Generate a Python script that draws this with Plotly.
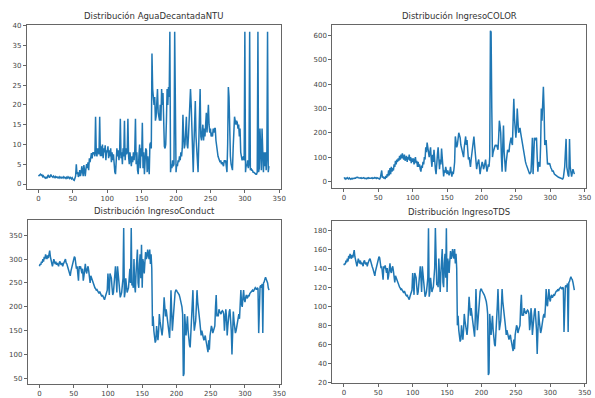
import plotly.graph_objects as go

# ---------------- data ----------------
ntu = [
    2.0, 2.2, 2.4, 2.5, 2.2, 2.3, 1.9, 2.1, 1.8, 1.6,
    1.5, 1.8, 1.4, 1.7, 2.3, 2.0, 1.6, 1.9, 2.4, 2.0,
    1.8, 1.7, 2.0, 1.8, 1.6, 1.9, 1.7, 1.8, 1.6, 1.7,
    1.5, 1.8, 1.6, 1.7, 1.5, 1.6, 1.8, 1.5, 1.7, 1.6,
    1.4, 1.7, 1.5, 1.8, 1.6, 1.4, 1.7, 1.5, 1.3, 1.6,
    1.2, 1.0, 0.9, 1.5, 2.0, 5.0, 2.5, 3.0, 1.8, 2.2,
    3.5, 2.0, 2.8, 4.5, 3.0, 2.0, 4.8, 3.5, 2.0, 3.8,
    5.0, 4.0, 5.5, 3.5, 6.5, 5.5, 7.0, 7.8, 6.5, 8.0,
    7.5, 8.0, 7.0, 17.0, 8.0, 7.0, 9.0, 8.0, 7.5, 17.0,
    7.0, 9.5, 7.0, 10.0, 6.5, 9.0, 8.0, 9.8, 6.0, 8.5,
    8.0, 9.5, 6.5, 8.5, 7.0, 9.0, 5.5, 8.0, 6.0, 7.5,
    4.0, 3.0, 2.5, 6.0, 9.0, 7.0, 8.5, 6.0, 8.0, 16.5,
    6.5, 8.0, 5.0, 9.0, 7.0, 16.0, 6.0, 9.0, 7.5, 8.0,
    16.5, 7.0, 5.0, 8.0, 6.0, 4.5, 7.0, 5.5, 8.0, 6.0,
    8.5, 16.5, 5.0, 8.0, 3.5, 2.5, 7.0, 10.0, 4.0, 9.0,
    7.0, 15.5, 4.0, 8.0, 2.5, 6.0, 9.0, 8.5, 3.0, 7.0,
    2.5, 2.5, 10.0, 10.5, 9.0, 33.0, 24.0, 22.0, 20.0, 22.0,
    16.0, 17.0, 20.0, 24.0, 18.0, 17.0, 16.0, 20.0, 16.0, 24.0,
    20.0, 23.0, 10.0, 9.5, 9.0, 10.0, 16.0, 24.0, 20.0, 24.5,
    22.0, 38.5, 3.0, 5.0, 4.0, 6.0, 4.5, 5.0, 38.5, 4.0,
    3.0, 5.0, 4.5, 6.0, 5.5, 7.0, 6.0, 8.0, 7.0, 9.0,
    17.5, 12.0, 9.0, 10.0, 14.0, 17.0, 10.0, 9.0, 12.0, 15.0,
    20.0, 24.0, 20.0, 12.0, 8.0, 3.0, 10.0, 15.0, 21.0, 12.0,
    8.0, 5.0, 3.0, 10.0, 16.0, 24.0, 12.0, 11.0, 13.0, 15.0,
    11.0, 14.0, 12.0, 15.0, 18.0, 13.0, 16.0, 20.0, 15.0, 13.0,
    14.0, 12.0, 13.0, 12.0, 14.0, 13.0, 14.0, 14.0, 11.0, 9.0,
    8.0, 7.0, 6.5, 6.0, 5.5, 6.0, 5.0, 5.5, 5.0, 4.5,
    6.0, 5.5, 6.0, 5.0, 3.0, 10.0, 24.5, 22.0, 10.0, 7.0,
    5.0, 4.0, 3.5, 9.0, 13.0, 17.0, 16.0, 15.0, 16.0, 15.5,
    14.0, 15.0, 12.0, 14.0, 8.0, 7.0, 6.0, 6.5, 7.0, 6.0,
    38.5, 3.0, 5.0, 4.5, 6.0, 4.0, 5.0, 38.5, 3.5, 4.0,
    3.5, 3.5, 3.0, 3.0, 2.8, 2.6, 2.5, 2.5, 3.0, 38.5,
    3.0, 4.0, 14.0, 5.0, 3.5, 14.0, 4.0, 3.0, 8.0, 4.5,
    8.0, 3.5, 7.0, 38.5, 3.0, 4.5,
]

color = [
    12, 14, 10, 13, 11, 15, 12, 10, 14, 11,
    9, 12, 10, 13, 11, 12, 14, 13, 16, 18,
    17, 15, 16, 14, 13, 15, 12, 14, 13, 15,
    12, 14, 13, 11, 14, 12, 15, 13, 12, 14,
    13, 15, 12, 14, 13, 16, 14, 12, 15, 13,
    14, 12, 10, 15, 25, 45, 15, 20, 12, 18,
    10, 22, 15, 30, 20, 45, 25, 55, 30, 60,
    40, 55, 45, 70, 60, 85, 70, 90, 80, 95,
    85, 105, 90, 110, 95, 115, 100, 90, 110, 85,
    95, 105, 80, 100, 90, 110, 85, 100, 75, 95,
    80, 95, 70, 90, 100, 75, 85, 60, 80, 60,
    70, 50, 40, 65, 55, 80, 70, 100, 90, 140,
    120, 160, 130, 110, 100, 120, 140, 90, 60, 110,
    80, 130, 70, 50, 30, 90, 110, 140, 80, 50,
    90, 70, 135, 80, 40, 20, 45, 35, 60, 40,
    30, 45, 35, 25, 40, 60, 35, 20, 40, 30,
    50, 80, 185, 160, 140, 150, 170, 200, 190, 180,
    150, 140, 120, 110, 100, 140, 160, 185, 150, 170,
    130, 90, 100, 80, 60, 90, 120, 150, 170, 185,
    150, 100, 70, 50, 70, 80, 90, 60, 30, 50,
    60, 80, 70, 50, 60, 75, 90, 60, 40, 55,
    70, 60, 100, 620, 615, 300, 100, 120, 130, 140,
    150, 145, 150, 140, 130, 180, 250, 230, 200, 100,
    40, 150, 230, 120, 90, 40, 80, 110, 130, 125,
    120, 150, 170, 180, 160, 150, 250, 340, 260, 200,
    180, 220, 300, 250, 200, 210, 220, 200, 180, 170,
    150, 130, 100, 90, 80, 70, 60, 50, 40, 35,
    30, 35, 40, 100, 180, 30, 100, 180, 170, 180,
    180, 100, 40, 80, 70, 60, 150, 300, 250, 350,
    390, 300, 150, 160, 170, 120, 70, 75, 70, 75,
    60, 55, 50, 40, 45, 35, 30, 28, 25, 22,
    20, 18, 17, 16, 15, 14, 12, 11, 10, 15,
    30, 60, 120, 175, 60, 30, 25, 20, 175, 60,
    25, 20, 35, 50, 40, 30,
]

conduct = [
    285, 290, 288, 295, 292, 300, 295, 305, 300, 310,
    305, 300, 308, 302, 310, 318, 305, 295, 290, 285,
    292, 300, 295, 290, 295, 288, 292, 287, 285, 293,
    295, 290, 288, 292, 285, 290, 295, 298, 300, 292,
    290, 285, 280, 275, 270, 265, 275, 280, 290, 295,
    300, 305, 303, 290, 280, 285, 260, 255, 285, 280,
    285, 275, 270, 280, 255, 265, 285, 290, 275, 270,
    280, 285, 275, 260, 250, 265, 260, 255, 250, 245,
    242, 240, 238, 235, 236, 232, 230, 228, 232, 227,
    225, 222, 225, 220, 218, 215, 220, 225, 228, 235,
    270, 245, 225, 270, 265, 260, 240, 225, 230, 250,
    280, 285, 260, 230, 285, 270, 250, 235, 220, 225,
    230, 245, 260, 365, 220, 230, 260, 245, 230, 235,
    240, 260, 280, 250, 365, 245, 250, 240, 300, 245,
    230, 270, 300, 320, 250, 240, 290, 310, 260, 330,
    240, 300, 290, 270, 295, 315, 300, 305, 320, 310,
    300, 320, 290, 310, 280, 160, 180, 150, 140, 125,
    130, 160, 145, 130, 150, 185, 170, 160, 150, 140,
    155, 180, 220, 200, 180, 195, 185, 170, 160, 150,
    135, 175, 235, 190, 150, 170, 200, 215, 230, 235,
    235, 232, 230, 228, 225, 220, 215, 210, 200, 185,
    55, 60, 185, 150, 140, 160, 180, 150, 130, 120,
    115, 140, 160, 200, 235, 180, 150, 160, 170, 200,
    235, 210, 190, 180, 170, 155, 140, 150, 145, 135,
    130, 135, 140, 130, 120, 110, 105, 130, 110, 140,
    150, 160, 155, 145, 150, 155, 160, 200, 225, 180,
    185, 180, 195, 190, 188, 185, 190, 192, 190, 185,
    150, 165, 195, 180, 140, 160, 185, 190, 195, 180,
    150, 100, 130, 190, 170, 150, 145, 150, 160, 175,
    180, 185, 175, 200, 235, 205, 200, 220, 235, 215,
    210, 220, 225, 218, 220, 225, 222, 228, 230, 232,
    233, 235, 232, 236, 238, 240, 238, 236, 240, 238,
    145, 240, 242, 245, 240, 248, 145, 250, 252, 258,
    262, 258, 255, 250, 240, 235,
]

tds = [
    143, 145, 144, 148, 146, 150, 147, 153, 150, 155,
    152, 150, 154, 151, 155, 159, 152, 147, 145, 142,
    146, 150, 147, 145, 148, 144, 146, 143, 142, 147,
    148, 145, 144, 146, 142, 145, 148, 149, 150, 146,
    145, 142, 140, 137, 135, 132, 137, 140, 145, 148,
    150, 152, 151, 145, 140, 142, 130, 128, 142, 140,
    143, 137, 135, 140, 128, 132, 142, 145, 137, 135,
    140, 142, 137, 130, 125, 132, 130, 127, 125, 122,
    121, 120, 119, 117, 118, 116, 115, 114, 116, 113,
    112, 111, 112, 110, 109, 107, 110, 112, 114, 117,
    135, 122, 112, 135, 132, 130, 120, 112, 115, 125,
    140, 142, 130, 115, 142, 135, 125, 117, 110, 112,
    115, 122, 130, 182, 110, 115, 130, 122, 115, 118,
    120, 130, 140, 182, 125, 122, 125, 120, 150, 122,
    115, 135, 150, 160, 125, 120, 145, 155, 130, 182,
    115, 150, 145, 135, 148, 158, 150, 152, 160, 155,
    150, 160, 145, 155, 140, 80, 90, 75, 70, 63,
    65, 80, 72, 65, 75, 92, 85, 80, 75, 70,
    78, 90, 110, 100, 90, 98, 92, 85, 80, 75,
    68, 88, 118, 95, 75, 85, 100, 108, 115, 118,
    118, 116, 115, 114, 112, 110, 108, 105, 100, 92,
    28, 30, 92, 75, 70, 80, 90, 75, 65, 60,
    58, 70, 80, 100, 118, 90, 75, 80, 85, 100,
    118, 105, 95, 90, 85, 78, 70, 75, 72, 68,
    65, 68, 70, 65, 60, 55, 53, 65, 55, 70,
    75, 80, 78, 72, 75, 78, 80, 100, 112, 90,
    92, 90, 98, 95, 94, 92, 95, 96, 95, 92,
    75, 82, 98, 90, 70, 80, 92, 95, 98, 90,
    75, 50, 65, 95, 85, 75, 72, 75, 80, 88,
    90, 92, 88, 100, 118, 102, 100, 110, 118, 108,
    105, 110, 112, 109, 110, 112, 111, 114, 115, 116,
    116, 118, 116, 118, 119, 120, 119, 118, 120, 119,
    73, 120, 121, 122, 120, 124, 73, 125, 126, 129,
    131, 129, 128, 125, 120, 117,
]

titles = [
    "Distribución AguaDecantadaNTU",
    "Distribución IngresoCOLOR",
    "Distribución IngresoConduct",
    "Distribución IngresoTDS",
]
x_ticks = [0, 50, 100, 150, 200, 250, 300, 350]
y_ticks = [
    [0, 5, 10, 15, 20, 25, 30, 35, 40],
    [0, 100, 200, 300, 400, 500, 600],
    [50, 100, 150, 200, 250, 300, 350],
    [20, 40, 60, 80, 100, 120, 140, 160, 180],
]
series = [ntu, color, conduct, tds]

# ---------------- layout ----------------
W, H = 595, 398
x_doms = [[27 / W, 283 / W], [335 / W, 591 / W], [28 / W, 283 / W], [335 / W, 591 / W]]
y_doms = [[1 - 191 / H, 1 - 23 / H], [1 - 190 / H, 1 - 23 / H],
          [1 - 390 / H, 1 - 222 / H], [1 - 389 / H, 1 - 223 / H]]
y_ranges = [[-1.3, 40.3], [-28, 646], [38, 383], [19.3, 190]]
x_range = [-17, 352]

fig = go.Figure()
layout = dict(
    width=W, height=H,
    margin=dict(l=0, r=0, t=0, b=0),
    paper_bgcolor="white", plot_bgcolor="white",
    showlegend=False,
    font=dict(family="DejaVu Sans", size=7, color="#444"),
    annotations=[],
)

for i, vals in enumerate(series):
    sfx = "" if i == 0 else str(i + 1)
    fig.add_trace(go.Scatter(
        x=list(range(len(vals))), y=vals, mode="lines",
        line=dict(color="#1f77b4", width=1.5),
        xaxis="x" + sfx, yaxis="y" + sfx, hoverinfo="skip",
    ))
    axis_common = dict(
        showline=True, linecolor="#666", linewidth=0.8, mirror=True,
        ticks="outside", ticklen=3, tickwidth=0.8, tickcolor="#666",
        showgrid=False, zeroline=False,
        tickfont=dict(family="DejaVu Sans", size=7, color="#444"),
    )
    layout["xaxis" + sfx] = dict(
        domain=x_doms[i], range=x_range, anchor="y" + sfx,
        tickvals=x_ticks, **axis_common,
    )
    layout["yaxis" + sfx] = dict(
        domain=y_doms[i], range=y_ranges[i], anchor="x" + sfx,
        tickvals=y_ticks[i], **axis_common,
    )
    layout["annotations"].append(dict(
        text=titles[i], xref="paper", yref="paper",
        x=(x_doms[i][0] + x_doms[i][1]) / 2, y=y_doms[i][1] + 2 / H,
        xanchor="center", yanchor="bottom", showarrow=False,
        font=dict(family="DejaVu Sans", size=8.5, color="#333"),
    ))

fig.update_layout(**layout)
fig.write_html("out.html")
